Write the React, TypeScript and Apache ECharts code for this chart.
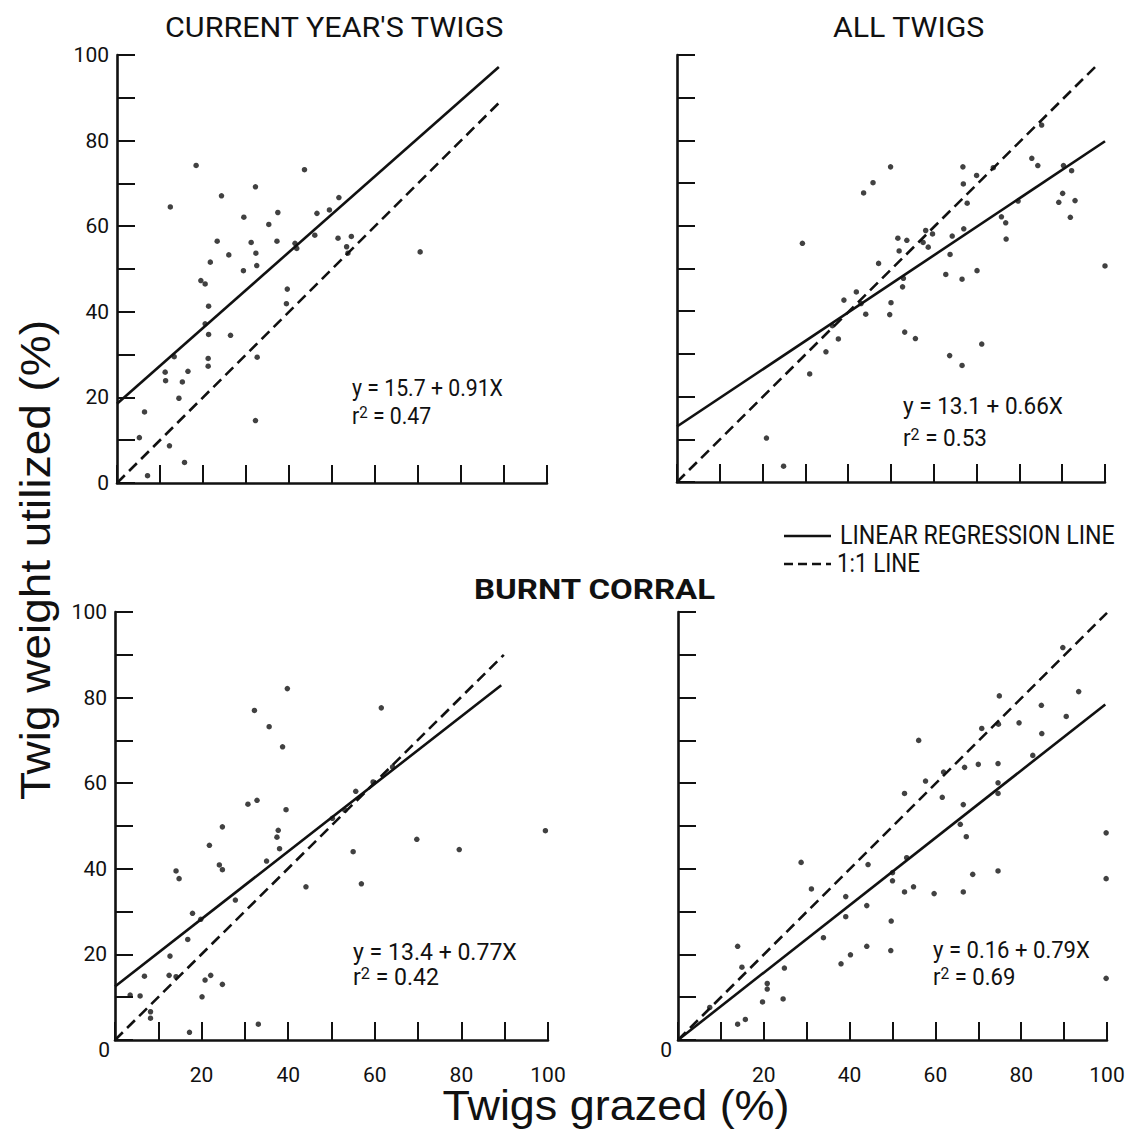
import React, { useEffect, useRef } from "react";
import * as echarts from "echarts";

// ---------- data ----------
const currentYearPoints: number[][] = [
  [18.4, 74.2], [43.6, 73.2], [32.2, 69.2], [12.4, 64.5], [24.3, 67.1], [51.6, 66.7],
  [29.5, 62.1], [37.4, 63.2], [46.5, 63.0], [49.4, 63.8], [35.3, 60.4], [23.3, 56.5],
  [31.2, 56.2], [37.2, 56.5], [41.4, 56.0], [41.8, 54.8], [46.0, 57.9], [51.4, 57.2],
  [54.5, 57.6], [53.4, 55.2], [53.7, 53.7], [70.5, 54.0], [26.0, 53.3], [32.3, 53.7],
  [21.7, 51.6], [32.5, 50.8], [29.4, 49.6], [19.5, 47.3], [20.5, 46.5], [39.6, 45.3],
  [39.4, 41.9], [21.3, 41.3], [20.5, 37.2], [21.3, 34.7], [26.4, 34.5], [13.3, 29.5],
  [32.6, 29.4], [21.2, 29.1], [21.2, 27.3], [11.2, 25.9], [16.5, 26.1], [11.3, 23.9],
  [15.2, 23.6], [14.4, 19.8], [6.4, 16.6], [32.2, 14.6], [5.2, 10.6], [12.2, 8.7],
  [15.7, 4.8], [7.1, 1.7],
];
const allTwigsPoints: number[][] = [
  [49.9, 73.8], [66.8, 73.8], [73.9, 73.6], [82.9, 75.8], [84.3, 74.1], [90.3, 74.1],
  [92.2, 72.9], [43.6, 67.7], [45.8, 70.1], [70.0, 71.8], [66.9, 69.8], [85.2, 83.6],
  [67.8, 65.3], [79.7, 65.8], [89.2, 65.5], [90.1, 67.6], [93.0, 65.9], [91.9, 62.0],
  [75.8, 62.1], [76.8, 60.7], [76.9, 56.9], [29.3, 55.9], [51.6, 57.1], [53.7, 56.6],
  [51.9, 54.1], [58.1, 58.9], [59.7, 58.1], [57.5, 56.1], [58.7, 55.0], [64.3, 57.6],
  [67.0, 59.3], [63.8, 53.3], [47.1, 51.2], [52.9, 47.7], [52.7, 45.7], [62.8, 48.6],
  [66.6, 47.5], [70.1, 49.5], [100, 50.6], [39.0, 42.6], [41.9, 44.5], [43.0, 41.8],
  [44.1, 39.3], [50.0, 42.0], [49.7, 39.2], [36.3, 36.6], [37.7, 33.5], [53.2, 35.1],
  [55.7, 33.6], [34.8, 30.5], [71.2, 32.3], [63.7, 29.6], [66.6, 27.3], [31.0, 25.3],
  [20.9, 10.3], [24.9, 3.7],
];
const burntCurrentPoints: number[][] = [
  [39.8, 82.1], [32.2, 77.0], [61.5, 77.6], [35.6, 73.2], [38.7, 68.5], [55.6, 58.1],
  [30.7, 55.1], [32.8, 56.0], [39.5, 53.8], [24.8, 49.8], [37.7, 49.0], [37.4, 47.4],
  [38.0, 44.7], [99.4, 48.9], [69.7, 46.9], [79.5, 44.5], [55.0, 44.0], [21.8, 45.5],
  [35.0, 41.8], [24.1, 40.9], [24.8, 39.8], [14.1, 39.5], [14.8, 37.7], [44.1, 35.8],
  [56.9, 36.5], [27.8, 32.7], [17.9, 29.6], [19.8, 28.2], [16.8, 23.5], [12.7, 19.6],
  [12.5, 15.1], [14.1, 14.8], [20.8, 14.0], [22.1, 15.1], [24.8, 13.0], [6.8, 14.9],
  [3.5, 10.5], [5.8, 10.3], [20.1, 10.1], [8.2, 6.6], [8.2, 5.1], [33.1, 3.7],
  [17.2, 1.8], [50.2, 51.8], [53.1, 53.7], [59.6, 60.3], [64.1, 63.8],
];
const burntAllPoints: number[][] = [
  [89.7, 91.7], [93.4, 81.4], [74.9, 80.4], [84.7, 78.2], [90.5, 75.6], [79.5, 74.1],
  [74.7, 73.8], [70.8, 72.8], [56.1, 70.0], [84.8, 71.6], [82.7, 66.5], [66.8, 63.7],
  [70.0, 64.4], [74.6, 64.6], [61.9, 62.6], [57.7, 60.5], [52.8, 57.6], [61.6, 56.7],
  [74.6, 60.1], [74.6, 57.6], [66.5, 55.0], [65.8, 50.4], [67.2, 47.5], [99.8, 48.4],
  [53.3, 42.6], [44.3, 41.0], [28.7, 41.5], [50.0, 37.2], [74.6, 39.5], [99.8, 37.7],
  [68.7, 38.7], [31.1, 35.3], [52.8, 34.6], [54.9, 35.8], [59.7, 34.2], [66.5, 34.6],
  [39.1, 33.5], [44.0, 31.4], [39.1, 28.8], [49.7, 27.8], [33.9, 23.9], [13.9, 21.9],
  [44.0, 21.9], [40.2, 19.9], [49.6, 20.9], [38.0, 17.8], [14.9, 17.0], [24.8, 16.8],
  [20.8, 13.2], [20.8, 11.9], [19.7, 8.9], [24.5, 9.6], [99.8, 14.4], [13.9, 3.7],
  [15.7, 4.8], [7.4, 7.6], [50.0, 39.1],
];

const currentYearRegression: number[][] = [[0, 18.5], [88.8, 97.2]];
const currentYearOneToOne: number[][] = [[0, 0], [89, 89]];
const allTwigsRegression: number[][] = [[0, 13], [100, 79.8]];
const allTwigsOneToOne: number[][] = [[0, 0], [98.5, 98]];
const burntCurrentRegression: number[][] = [[0, 12.5], [89.2, 82.9]];
const burntCurrentOneToOne: number[][] = [[0, 0], [89.8, 90]];
const burntAllRegression: number[][] = [[0, 0], [99.6, 78.4]];
const burntAllOneToOne: number[][] = [[0, 0], [100, 99.8]];

const panelTitles = ["CURRENT YEAR'S TWIGS", "ALL TWIGS"];
const equations = ["y = 15.7 + 0.91X", "y = 13.1 + 0.66X", "y = 13.4 + 0.77X", "y = 0.16 + 0.79X"];
const rSquared = ["0.47", "0.53", "0.42", "0.69"];
const siteLabel = "BURNT CORRAL";
const legendLabels = ["LINEAR REGRESSION LINE", "1:1 LINE"];
const xAxisTitle = "Twigs grazed (%)";
const yAxisTitle = "Twig weight utilized (%)";

// ---------- styling ----------
const LETTER = "Roboto, 'Noto Sans', sans-serif";
const SANS = "'Liberation Sans', Arial, sans-serif";
const INK = "#111";

function fitScale(text: string, size: number, family: string, weight: string, target: number): number {
  const ctx = document.createElement("canvas").getContext("2d");
  if (!ctx) return 1;
  ctx.font = `${weight} ${size}px ${family}`;
  const w = ctx.measureText(text).width;
  return w > 0 ? target / w : 1;
}

function fittedText(
  text: string,
  x: number,
  y: number,
  size: number,
  target: number,
  opts: { family?: string; weight?: string; align?: string; rotation?: number } = {},
) {
  const family = opts.family || LETTER;
  const weight = opts.weight || "normal";
  return {
    type: "text",
    x,
    y,
    rotation: opts.rotation || 0,
    scaleX: fitScale(text, size, family, weight, target),
    style: {
      text,
      fontFamily: family,
      fontWeight: weight,
      fontSize: size,
      fill: INK,
      align: opts.align || "left",
      verticalAlign: "middle",
    },
  };
}

export default function App() {
  const ref = useRef<HTMLDivElement>(null);

  useEffect(() => {
    document.body.style.margin = "0";
    if (!ref.current) return;
    const chart = echarts.init(ref.current, undefined, { renderer: "svg" });

    const grids = [
      { left: 117, top: 55, width: 430, height: 428 },
      { left: 677, top: 55, width: 428, height: 427 },
      { left: 115, top: 612, width: 433, height: 428 },
      { left: 678, top: 612, width: 429, height: 428 },
    ];

    const axisCommon = {
      type: "value" as const,
      min: 0,
      max: 100,
      interval: 10,
      splitLine: { show: false },
      axisLine: { show: true, lineStyle: { color: INK, width: 2.6 } },
      axisTick: { show: true, inside: true, length: 18, lineStyle: { color: INK, width: 2 } },
    };

    const xAxis = grids.map((_, i) => ({
      ...axisCommon,
      gridIndex: i,
      axisLabel: {
        show: i >= 2,
        margin: 24,
        color: INK,
        fontFamily: LETTER,
        fontSize: 21,
        formatter: (v: number) => (v > 0 && v % 20 === 0 ? String(v) : ""),
      },
    }));

    const yAxis = grids.map((_, i) => ({
      ...axisCommon,
      gridIndex: i,
      axisLabel: {
        show: i === 0 || i === 2,
        margin: 8,
        color: INK,
        fontFamily: LETTER,
        fontSize: 21,
        formatter: (v: number) => {
          if (v % 20 !== 0) return "";
          if (i === 2 && v === 0) return "";
          return String(v);
        },
      },
    }));

    const pointSets = [currentYearPoints, allTwigsPoints, burntCurrentPoints, burntAllPoints];
    const regLines = [currentYearRegression, allTwigsRegression, burntCurrentRegression, burntAllRegression];
    const oneLines = [currentYearOneToOne, allTwigsOneToOne, burntCurrentOneToOne, burntAllOneToOne];

    const series: any[] = [];
    for (let i = 0; i < 4; i++) {
      series.push({
        type: "line",
        xAxisIndex: i,
        yAxisIndex: i,
        data: regLines[i],
        symbol: "none",
        lineStyle: { color: INK, width: 2.6, type: "solid" },
        z: 3,
      });
      series.push({
        type: "line",
        xAxisIndex: i,
        yAxisIndex: i,
        data: oneLines[i],
        symbol: "none",
        lineStyle: { color: INK, width: 2.6, type: [11, 6] },
        z: 3,
      });
      series.push({
        type: "scatter",
        xAxisIndex: i,
        yAxisIndex: i,
        data: pointSets[i],
        symbol: "circle",
        symbolSize: 5.5,
        itemStyle: { color: INK },
        z: 4,
      });
    }

    // [left, eq centre y, r2 centre y, eq width]
    const eqPos = [
      [352, 388, 416, 151],
      [903, 406, 438, 160],
      [353, 952, 977, 164],
      [933, 950, 977, 157],
    ];

    const graphic: any[] = [
      fittedText(panelTitles[0], 165, 27, 28, 340),
      fittedText(panelTitles[1], 833, 27, 28, 152),
      fittedText(siteLabel, 474, 590, 27, 242, { weight: "bold" }),
      { type: "line", shape: { x1: 784, y1: 536, x2: 831, y2: 536 }, style: { stroke: INK, lineWidth: 2.6 } },
      { type: "line", shape: { x1: 784, y1: 564, x2: 831, y2: 564 }, style: { stroke: INK, lineWidth: 2.6, lineDash: [9, 5] } },
      fittedText(legendLabels[0], 840, 536, 25, 275),
      fittedText(legendLabels[1], 837, 564, 25, 83),
      { type: "text", x: 110, y: 1050, style: { text: "0", fontFamily: LETTER, fontSize: 21, fill: INK, align: "right", verticalAlign: "middle" } },
      { type: "text", x: 672, y: 1050, style: { text: "0", fontFamily: LETTER, fontSize: 21, fill: INK, align: "right", verticalAlign: "middle" } },
      fittedText(xAxisTitle, 616, 1106, 42, 347, { family: SANS, align: "center" }),
      fittedText(yAxisTitle, 35, 560, 42, 480, { family: SANS, align: "center", rotation: Math.PI / 2 }),
    ];

    for (let i = 0; i < 4; i++) {
      const eqItem: any = fittedText(equations[i], eqPos[i][0], eqPos[i][1], 24, eqPos[i][3]);
      graphic.push(eqItem);
      graphic.push({
        type: "text",
        x: eqPos[i][0],
        y: eqPos[i][2],
        scaleX: eqItem.scaleX,
        style: {
          text: "r{s|2} = " + rSquared[i],
          fontFamily: LETTER,
          fontSize: 24,
          fill: INK,
          align: "left",
          verticalAlign: "middle",
          rich: { s: { fontSize: 17, fontFamily: LETTER, verticalAlign: "top", fill: INK } },
        },
      });
    }

    chart.setOption({
      animation: false,
      backgroundColor: "#fff",
      grid: grids,
      xAxis,
      yAxis,
      series,
      graphic,
    });

    return () => chart.dispose();
  }, []);

  return <div ref={ref} style={{ width: 1132, height: 1129 }} />;
}
